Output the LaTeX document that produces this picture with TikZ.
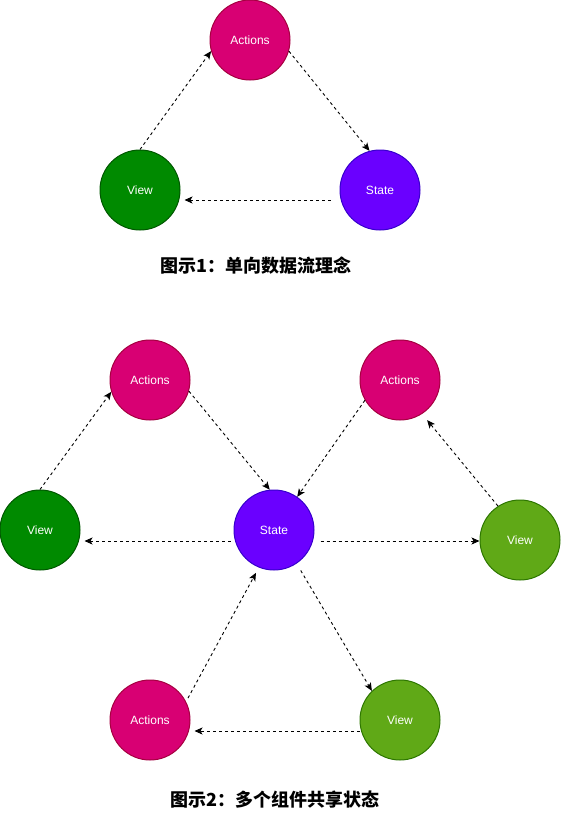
\documentclass[tikz,border=0pt]{standalone}
\usepackage{fontspec}
\setmainfont{Liberation Sans}
\newfontfamily\cjk{Noto Sans CJK SC}
\usepackage{xcolor}
\usetikzlibrary{positioning,arrows.meta}
\definecolor{actfill}{HTML}{D80073}
\definecolor{actline}{HTML}{A50040}
\definecolor{viewfill}{HTML}{008A00}
\definecolor{viewline}{HTML}{005700}
\definecolor{lightfill}{HTML}{60A917}
\definecolor{lightline}{HTML}{2D7600}
\definecolor{statefill}{HTML}{6A00FF}
\definecolor{stateline}{HTML}{3700CC}
\begin{document}
\begin{tikzpicture}[x=1pt, y=-1pt, on grid,
    every node/.style={circle, draw, line width=1pt, minimum size=80pt, inner sep=0pt, text=white, font=\fontsize{12}{14}\selectfont},
    act/.style={fill=actfill, draw=actline},
    view/.style={fill=viewfill, draw=viewline},
    lightview/.style={fill=lightfill, draw=lightline},
    state/.style={fill=statefill, draw=stateline},
    caption/.style={draw=none, circle=false, rectangle, minimum size=0pt, text=black, font=\cjk\bfseries\fontsize{18}{20}\selectfont},
    flow/.style={-{Stealth[length=8pt,width=7pt,inset=2pt]}, line width=0.9pt, dash pattern=on 3pt off 3pt}]
    \useasboundingbox (0,0) rectangle (561,816);
    \node (A1) [act] at (250,40) {Actions};
    \node (V1) [view, below left=150pt and 110pt of A1] {View};
    \node (S1) [state, right=240pt of V1] {State};
    \node (C1) [caption, draw=none] at (256,266) {图示1：单向数据流理念};
    \draw[flow] (V1.north) -- (A1.196);
    \draw[flow] (A1.344) -- (S1.105);
    \draw[flow] ([xshift=-9pt,yshift=-10pt]S1.west) -- ([xshift=4pt,yshift=-10pt]V1.east);
    \node (S2) [state] at (274,530) {State};
    \node (AL) [act, above left=150pt and 124pt of S2] {Actions};
    \node (AR) [act, above right=150pt and 126pt of S2] {Actions};
    \node (VL) [view, left=234pt of S2] {View};
    \node (VR) [lightview, below right=10pt and 246pt of S2] {View};
    \node (AB) [act, below left=190pt and 124pt of S2] {Actions};
    \node (VB) [lightview, below right=190pt and 126pt of S2] {View};
    \node (C2) [caption, draw=none] at (275,800) {图示2：多个组件共享状态};
    \draw[flow] (VL.north) -- (AL.197);
    \draw[flow] (AL.344) -- (S2.96);
    \draw[flow] (AR.210) -- (S2.55);
    \draw[flow] ([xshift=-3pt,yshift=-11pt]S2.west) -- ([xshift=4pt,yshift=-11pt]VL.east);
    \draw[flow] ([xshift=6pt,yshift=-11pt]S2.east) -- ([yshift=-1pt]VR.west);
    \draw[flow, shorten >=8pt] (VR.123) -- (AR.303);
    \draw[flow, shorten <=4pt, shorten >=6pt] (AB.27) -- (S2.248);
    \draw[flow, shorten <=8pt] (S2.304) -- (VB.134);
    \draw[flow] ([yshift=-11pt]VB.west) -- ([xshift=4pt,yshift=-11pt]AB.east);
\end{tikzpicture}
\end{document}
